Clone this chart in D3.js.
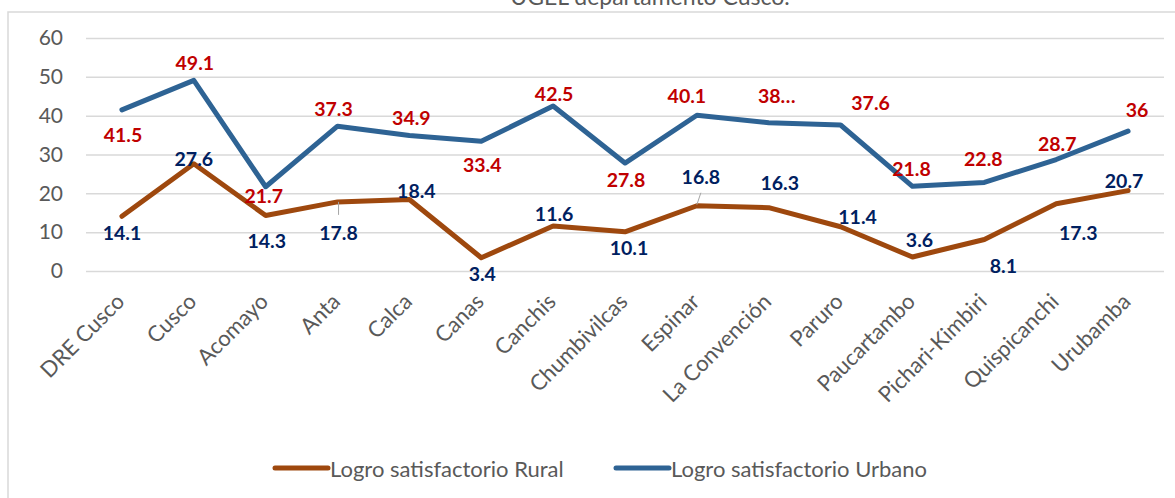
<!DOCTYPE html>
<html>
<head>
<meta charset="utf-8">
<script src="https://cdn.jsdelivr.net/npm/d3@7"></script>
<style>
  html, body { margin: 0; padding: 0; background: #ffffff; }
  svg { display: block; font-family: Lato, "Open Sans", sans-serif; }
</style>
</head>
<body>
<svg id="chart" width="1175" height="498"></svg>
<script>
// Logro satisfactorio por UGEL, departamento Cusco
const categories = ["DRE Cusco", "Cusco", "Acomayo", "Anta", "Calca", "Canas", "Canchis",
  "Chumbivilcas", "Espinar", "La Convención", "Paruro", "Paucartambo", "Pichari-Kimbiri",
  "Quispicanchi", "Urubamba"];
const rural  = [14.1, 27.6, 14.3, 17.8, 18.4, 3.4, 11.6, 10.1, 16.8, 16.3, 11.4, 3.6, 8.1, 17.3, 20.7];
const urbano = [41.5, 49.1, 21.7, 37.3, 34.9, 33.4, 42.5, 27.8, 40.1, 38.2, 37.6, 21.8, 22.8, 28.7, 36];
const yTicks = [0, 10, 20, 30, 40, 50, 60];
const seriesNames = ["Logro satisfactorio Rural", "Logro satisfactorio Urbano"];
const titleText = "UGEL departamento Cusco.";
// data labels shown cut short (value kept, text abbreviated)
const urbanoTruncated = [9];

// label placement: offset of label centre from its point, in px
const urbanoLabelOffsets = [[1,25],[1,-18],[-2,9],[-4,-18],[2,-18],[1,23],[1,-12],[1,16],
  [-10,-20],[8,-27],[30,-22],[-1,-18],[-1,-24],[1,-16],[9,-22]];
const ruralLabelOffsets = [[0,16],[0,-5],[1,25],[1,31],[7,-9],[1,16],[1,-12],[4,16],
  [4,-29],[11,-25],[17,-10],[7,-18],[19,26],[22,29],[-4,-10]];
// leader lines for labels placed away from their point: [index, x1,y1 offset, x2,y2 offset]
const ruralLeaders = [[3, 1, 0, 1, 13], [8, 0, -1, 4, -13]];

const svg = d3.select("#chart");
const C = {
  rural: "#9E480E", urbano: "#2E6394",
  ruralLabel: "#002060", urbanoLabel: "#C00000",
  grid: "#D9D9D9", text: "#595959"
};

// chart frame
svg.append("rect")
  .attr("x", 8).attr("y", 12).attr("width", 1180).attr("height", 500)
  .attr("fill", "none").attr("stroke", C.grid).attr("stroke-width", 1.5);

// title (partly above the frame)
svg.append("text")
  .attr("x", 650).attr("y", 5)
  .attr("text-anchor", "middle")
  .attr("font-size", 23).attr("fill", C.text)
  .text(titleText);

const x = d3.scaleBand().domain(categories).range([86, 1164]);
const y = d3.scaleLinear().domain([0, 60]).range([271, 38]);
const cx = d => x(d) + x.bandwidth() / 2;

// horizontal gridlines + y tick labels
const yAxis = d3.axisLeft(y).tickValues(yTicks).tickSize(-(1164 - 86)).tickPadding(23);
const gy = svg.append("g").attr("transform", "translate(86,0)").call(yAxis);
gy.select(".domain").remove();
gy.selectAll(".tick line").attr("stroke", C.grid).attr("stroke-width", 1.5);
gy.selectAll(".tick text")
  .attr("font-size", 21).attr("fill", C.text).attr("font-family", "Lato, sans-serif");

// category labels, rotated
const xAxis = d3.axisBottom(x).tickSize(0).tickPadding(0);
const gx = svg.append("g").attr("transform", "translate(0,271)").call(xAxis);
gx.select(".domain").remove();
gx.selectAll(".tick text")
  .attr("font-size", 22).attr("fill", C.text).attr("font-family", "Lato, sans-serif")
  .attr("text-anchor", "end")
  .attr("dy", null)
  .attr("transform", "translate(4,32) rotate(-45)");

// lines
const line = d3.line().x((d, i) => cx(categories[i])).y(d => y(d));
svg.append("path").datum(rural)
  .attr("d", line).attr("fill", "none").attr("stroke", C.rural)
  .attr("stroke-width", 5).attr("stroke-linejoin", "round").attr("stroke-linecap", "round");
svg.append("path").datum(urbano)
  .attr("d", line).attr("fill", "none").attr("stroke", C.urbano)
  .attr("stroke-width", 5).attr("stroke-linejoin", "round").attr("stroke-linecap", "round");

// leader lines
svg.append("g").selectAll("line").data(ruralLeaders).join("line")
  .attr("x1", d => cx(categories[d[0]]) + d[1]).attr("y1", d => y(rural[d[0]]) + d[2])
  .attr("x2", d => cx(categories[d[0]]) + d[3]).attr("y2", d => y(rural[d[0]]) + d[4])
  .attr("stroke", "#A6A6A6").attr("stroke-width", 1);

// data labels
function labels(values, offsets, color, truncated) {
  svg.append("g").selectAll("text").data(values).join("text")
    .attr("x", (d, i) => cx(categories[i]) + offsets[i][0])
    .attr("y", (d, i) => y(d) + offsets[i][1])
    .attr("text-anchor", "middle").attr("dominant-baseline", "central")
    .attr("font-size", 19.5).attr("font-weight", 700).attr("fill", color)
    .text((d, i) => truncated.includes(i) ? String(Math.floor(d)) + "…" : String(d));
}
labels(urbano, urbanoLabelOffsets, C.urbanoLabel, urbanoTruncated);
labels(rural, ruralLabelOffsets, C.ruralLabel, []);

// legend
const legend = [
  { name: seriesNames[0], color: C.rural, x: 275 },
  { name: seriesNames[1], color: C.urbano, x: 616 }
];
const lg = svg.append("g").selectAll("g").data(legend).join("g")
  .attr("transform", d => `translate(${d.x},468)`);
lg.append("line").attr("x1", 0).attr("x2", 53).attr("y1", 0).attr("y2", 0)
  .attr("stroke", d => d.color).attr("stroke-width", 5).attr("stroke-linecap", "round");
lg.append("text").attr("x", 55).attr("y", 0).attr("dominant-baseline", "central")
  .attr("font-size", 22).attr("fill", C.text).text(d => d.name);
</script>
</body>
</html>
